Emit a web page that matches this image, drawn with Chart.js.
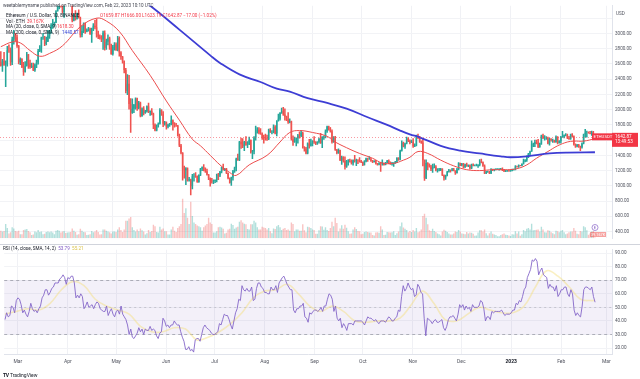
<!DOCTYPE html>
<html><head><meta charset="utf-8">
<title>ETHUSD 1D</title>
<script src="https://cdn.jsdelivr.net/npm/chart.js@4.4.1/dist/chart.umd.min.js"></script>
<style>
html,body{margin:0;padding:0;background:#fff;}
body{position:relative;width:640px;height:379px;overflow:hidden;font-family:Roboto,"Liberation Sans",Arial,sans-serif;}
canvas{position:absolute;left:0;}
#price{top:0;}
#rsi{top:244px;}
.t{position:absolute;white-space:nowrap;font-size:4.6px;line-height:5px;color:#131722;}
.r{color:#f23645}
.b{color:#2f3fd6}
</style></head><body>
<canvas id="price" width="640" height="244"></canvas>
<canvas id="rsi" width="640" height="128"></canvas>
<div class="t" style="left:3px;top:2.5px;color:#434651">weetablemyname published on TradingView.com, Feb 22, 2023 10:10 UTC</div>
<div class="t" style="left:6px;top:12.5px">Ethereum / U.S. Dollar, 1D, BINANCE</div>
<div class="t r" style="left:100px;top:12.5px">O1659.87 H1666.00 L1623.19 C1642.87 −17.00 (−1.02%)</div>
<div class="t" style="left:6px;top:18.5px">Vol · ETH</div><div class="t r" style="left:27px;top:18.5px">39.167K</div>
<div class="t" style="left:6px;top:24px">MA (20, close, 0, SMA, 9)</div><div class="t r" style="left:57px;top:24px">1618.30</div>
<div class="t" style="left:6px;top:29.5px">MA (200, close, 0, SMA, 9)</div><div class="t b" style="left:62px;top:29.5px">1440.57</div>
<div class="t" style="left:616px;top:10.5px;color:#50535e">USD</div>
<div class="t" style="left:3px;top:245.5px">RSI (14, close, SMA, 14, 2) &nbsp;<span style="color:#7e57c2">53.79</span> &nbsp;<span style="color:#d9c24a">55.21</span></div>
<div class="t" style="left:3px;top:373px;font-size:5px;color:#131722"><b style="letter-spacing:-0.3px">TV</b> TradingView</div>
<script>
// ---------- data (daily ETH/USD candles, Feb 21 2022 .. Feb 22 2023) ----------
const opens = [
2620,2575,2640,2590,2600,2780,2775,2620,
2920,2975,2950,2835,2620,2665,2555,2495,2575,2725,2605,2560,2575,2515,2590,2620,2770,2815,2945,2950,2860,2895,2970,3030,3110,3110,3140,3290,3330,3400,3385,
3280,3450,3445,3520,3520,3410,3170,3235,3190,3260,3210,2980,3030,3120,3020,3040,3060,2990,3060,3100,3080,2985,2960,2935,2920,3010,2810,2890,2935,2815,
2730,2825,2855,2780,2940,2750,2695,2635,2520,2245,2340,2075,1960,2010,2060,2145,2020,2090,1915,2015,1960,1975,2045,1970,1980,1945,1800,1725,1795,1815,1995,
1940,1815,1830,1775,1800,1805,1860,1810,1795,1790,1665,1530,1435,1210,1205,1230,1070,1085,995,1125,1130,1125,1050,1145,1225,1245,1200,1190,1145,1100,
1070,1060,1065,1075,1150,1135,1185,1240,1215,1220,1170,1100,1040,1110,1190,1230,1355,1340,1580,1545,1520,1575,1535,1550,1600,1440,1450,1635,1725,1735,1695,
1680,1635,1630,1620,1610,1735,1700,1700,1775,1685,1850,1880,1960,1980,1935,1905,1875,1835,1845,1610,1575,1620,1625,1660,1655,1695,1505,1490,1425,1555,1525,
1555,1585,1575,1555,1575,1615,1560,1630,1635,1715,1780,1765,1715,1575,1635,1475,1430,1470,1335,1375,1325,1250,1330,1330,1315,1295,1335,1330,1340,1335,
1330,1310,1275,1320,1360,1350,1350,1330,1315,1325,1290,1280,1295,1290,1295,1275,1305,1330,1310,1285,1285,1300,1315,1365,1345,1460,1565,1515,1555,1620,1590,
1570,1580,1520,1530,1645,1630,1575,1570,1335,1100,1300,1285,1255,1220,1240,1250,1200,1200,1210,1220,1140,1110,1135,1185,1205,1200,1215,1195,1170,1215,
1295,1275,1290,1240,1280,1260,1270,1230,1280,1265,1265,1265,1275,1320,1310,1265,1165,1185,1185,1165,1215,1210,1215,1220,1220,1220,1225,1210,1190,1200,1200,
1195,1200,1215,1215,1255,1250,1270,1265,1290,1320,1335,1390,1420,1450,1550,1550,1575,1565,1510,1555,1660,1630,1630,1630,1555,1610,1600,1600,1575,1645,1565,
1585,1640,1645,1665,1670,1630,1615,1675,1650,1545,1515,1540,1515,1505,1555,1675,1695,1695,1690,1680,1705,1659.87];
const highs = [
2760,2660,2750,2640,2830,2850,2810,2950,
3040,3000,2980,2845,2680,2670,2620,2630,2750,2725,2650,2610,2610,2600,2650,2790,2840,2950,3000,2960,2950,3040,3040,3130,3185,3150,3300,3425,3480,3445,3440,
3475,3530,3580,3550,3540,3410,3260,3300,3265,3310,3215,3100,3140,3140,3060,3080,3070,3070,3130,3170,3190,3030,2980,2970,3030,3035,2925,2980,2950,2860,
2845,2880,2875,2960,2955,2760,2700,2640,2540,2460,2450,2145,2140,2070,2155,2150,2110,2100,2025,2040,1990,2050,2085,1985,2015,1955,1815,1800,1825,2015,2000,
1975,1845,1840,1810,1820,1920,1865,1830,1820,1795,1680,1545,1435,1260,1240,1235,1110,1090,1150,1160,1175,1130,1145,1230,1250,1280,1235,1220,1150,1105,
1100,1080,1080,1155,1165,1190,1245,1285,1230,1230,1170,1105,1115,1205,1245,1365,1415,1585,1625,1620,1585,1645,1580,1640,1605,1465,1645,1785,1765,1765,1750,
1695,1665,1680,1665,1745,1750,1725,1800,1790,1855,1940,1960,2020,2030,2010,1915,1960,1880,1850,1655,1640,1630,1675,1710,1725,1705,1515,1505,1565,1610,1615,
1595,1645,1580,1580,1625,1690,1645,1655,1735,1785,1785,1765,1735,1645,1650,1480,1485,1470,1390,1385,1380,1335,1345,1350,1340,1340,1400,1350,1345,1370,
1335,1315,1330,1365,1365,1385,1360,1335,1330,1335,1295,1305,1310,1340,1300,1310,1335,1340,1315,1310,1305,1320,1370,1370,1470,1590,1575,1560,1640,1630,1605,
1600,1620,1550,1665,1680,1650,1590,1610,1340,1340,1305,1290,1270,1285,1290,1265,1225,1230,1230,1225,1145,1140,1190,1215,1210,1230,1230,1200,1230,1305,
1300,1295,1295,1285,1300,1275,1275,1285,1290,1275,1285,1280,1345,1350,1315,1275,1190,1195,1190,1225,1220,1220,1225,1225,1225,1230,1235,1215,1205,1205,1205,
1205,1220,1220,1265,1260,1275,1270,1290,1350,1345,1395,1425,1455,1590,1560,1600,1600,1610,1560,1665,1680,1660,1645,1640,1625,1620,1615,1600,1655,1645,1595,
1650,1715,1670,1685,1680,1650,1680,1685,1655,1550,1545,1545,1520,1565,1680,1740,1720,1710,1715,1720,1715,1666];
const lows = [
2570,2500,2580,2300,2570,2750,2580,2590,
2860,2900,2815,2600,2590,2550,2450,2490,2570,2540,2540,2550,2510,2500,2550,2595,2760,2750,2920,2840,2850,2890,2935,3000,3065,3095,3140,3290,3320,3345,3270,
3210,3435,3420,3400,3400,3150,3165,3175,3185,3200,2950,2955,3010,3000,3020,3030,2985,2880,3035,3060,2950,2930,2925,2890,2790,2780,2790,2850,2790,2725,
2715,2780,2775,2770,2700,2660,2610,2480,2220,2195,2005,1700,1950,1960,2005,1990,2010,1905,1910,1930,1950,1965,1960,1925,1930,1750,1720,1720,1770,1810,1925,
1775,1795,1745,1760,1780,1800,1730,1770,1780,1650,1515,1420,1075,1100,1015,1060,1060,880,960,1060,1110,1045,1045,1135,1200,1195,1175,1140,1080,995,
1035,1030,1040,1050,1080,1120,1170,1205,1200,1160,1090,1035,1005,1075,1175,1195,1335,1330,1490,1500,1460,1530,1500,1540,1430,1355,1420,1600,1690,1680,1675,
1610,1560,1600,1595,1605,1700,1680,1695,1680,1655,1850,1860,1950,1925,1860,1855,1820,1825,1600,1530,1570,1525,1560,1625,1645,1495,1455,1420,1420,1495,1520,
1525,1555,1540,1545,1560,1555,1500,1610,1630,1700,1730,1705,1560,1570,1465,1420,1425,1330,1280,1310,1220,1240,1270,1310,1285,1270,1310,1265,1290,1310,
1305,1265,1270,1315,1320,1345,1320,1305,1310,1285,1270,1275,1190,1270,1270,1275,1300,1290,1280,1270,1255,1295,1305,1335,1340,1455,1510,1490,1550,1580,1550,
1565,1505,1515,1525,1620,1570,1555,1260,1070,1095,1210,1245,1200,1175,1235,1195,1180,1195,1200,1135,1075,1085,1130,1180,1180,1195,1195,1150,1165,1210,
1265,1260,1235,1240,1255,1250,1220,1225,1260,1260,1260,1240,1260,1300,1255,1160,1160,1175,1160,1160,1200,1195,1210,1215,1205,1215,1200,1185,1185,1190,1190,
1190,1195,1205,1210,1245,1240,1260,1260,1285,1315,1320,1370,1405,1450,1515,1515,1550,1500,1505,1545,1620,1600,1610,1550,1535,1585,1570,1570,1570,1550,1560,
1560,1635,1630,1655,1620,1610,1610,1640,1535,1505,1510,1505,1460,1495,1550,1640,1640,1690,1680,1660,1645,1623.19];
const closes = [
2575,2640,2590,2600,2780,2775,2620,2920,
2975,2950,2835,2620,2665,2555,2495,2575,2725,2605,2560,2575,2515,2590,2620,2770,2815,2945,2950,2860,2895,2970,3030,3110,3110,3140,3290,3330,3400,3385,3280,
3450,3445,3520,3520,3410,3170,3235,3190,3260,3210,2980,3030,3120,3020,3040,3060,2990,3060,3100,3080,2985,2960,2935,2920,3010,2810,2890,2935,2815,2730,
2825,2855,2780,2940,2750,2695,2635,2520,2245,2340,2075,1960,2010,2060,2145,2020,2090,1915,2015,1960,1975,2045,1970,1980,1945,1800,1725,1795,1815,1995,1940,
1815,1830,1775,1800,1805,1860,1810,1795,1790,1665,1530,1435,1210,1205,1230,1070,1085,995,1125,1130,1125,1050,1145,1225,1245,1200,1190,1145,1100,1070,
1060,1065,1075,1150,1135,1185,1240,1215,1220,1170,1100,1040,1110,1190,1230,1355,1340,1580,1545,1520,1575,1535,1550,1600,1440,1450,1635,1725,1735,1695,1680,
1635,1630,1620,1610,1735,1700,1700,1775,1685,1850,1880,1960,1980,1935,1905,1875,1835,1845,1610,1575,1620,1625,1660,1655,1695,1505,1490,1425,1555,1525,1555,
1585,1575,1555,1575,1615,1560,1630,1635,1715,1780,1765,1715,1575,1635,1475,1430,1470,1335,1375,1325,1250,1330,1330,1315,1295,1335,1330,1340,1335,1330,
1310,1275,1320,1360,1350,1350,1330,1315,1325,1290,1280,1295,1290,1295,1275,1305,1330,1310,1285,1285,1300,1315,1365,1345,1460,1565,1515,1555,1620,1590,1570,
1580,1520,1530,1645,1630,1575,1570,1335,1100,1300,1285,1255,1220,1240,1250,1200,1200,1210,1220,1140,1110,1135,1185,1205,1200,1215,1195,1170,1215,1295,
1275,1290,1240,1280,1260,1270,1230,1280,1265,1265,1265,1275,1320,1310,1265,1165,1185,1185,1165,1215,1210,1215,1220,1220,1220,1225,1210,1190,1200,1200,1195,
1200,1215,1215,1255,1250,1270,1265,1290,1320,1335,1390,1420,1450,1550,1550,1575,1565,1510,1555,1660,1630,1630,1630,1555,1610,1600,1600,1575,1645,1565,1585,
1640,1645,1665,1670,1630,1615,1675,1650,1545,1515,1540,1515,1505,1555,1675,1695,1695,1690,1680,1705,1659.87,1642.87];
// volume, thousand ETH
const volumes = [
480,420,450,900,650,300,380,700,
620,450,420,480,260,260,520,560,580,450,380,200,240,420,380,520,400,430,260,280,400,420,380,420,360,260,480,520,480,360,420,
460,330,360,380,400,620,480,400,220,260,600,480,400,380,200,220,260,460,380,420,520,400,240,260,560,560,480,420,380,300,
420,420,400,560,700,520,400,560,1100,1100,1250,1350,700,520,420,560,440,620,500,420,240,320,520,400,460,860,760,400,360,720,560,
620,440,440,240,240,560,720,480,400,640,760,900,2500,1600,1900,1300,900,2300,1400,1000,900,800,760,700,480,700,800,900,1300,1000,
900,360,360,440,700,720,680,600,300,340,560,600,920,840,600,680,720,1040,1140,1000,920,880,580,560,880,880,1100,1000,700,560,560,
720,680,640,560,640,440,320,620,580,760,840,700,520,600,640,520,560,480,1000,900,440,560,560,480,480,880,500,380,720,700,640,
560,520,280,280,500,760,740,540,700,520,460,640,1040,760,1300,960,420,620,820,600,860,660,440,280,300,560,700,580,460,440,
260,280,400,420,400,360,360,200,180,360,380,340,760,560,200,220,400,380,360,380,440,200,320,420,760,1000,680,600,520,380,460,
400,520,420,640,380,420,560,1400,1550,1300,880,500,460,600,460,400,300,260,180,420,540,480,400,300,240,240,300,420,400,520,
420,300,280,260,400,300,360,340,280,160,180,360,500,500,420,560,320,180,320,420,280,240,200,120,120,200,260,300,220,200,180,
140,260,240,440,300,420,160,260,520,440,600,640,560,920,500,520,540,560,420,720,560,380,360,500,480,380,320,260,480,440,380,
480,520,380,260,300,380,420,420,640,480,280,260,460,420,760,700,500,220,300,420,460,40];
// RSI(14) daily
const rsi = [
41,46,43,44,51,50,46,55,
57,56,52,46,48,45,43,47,53,49,47,48,46,49,51,57,59,63,63,59,61,64,65,68,68,68,71,72,74,72,67,
72,71,73,73,68,57,59,57,60,58,49,51,54,50,51,52,49,52,54,53,49,48,47,47,51,44,47,49,45,43,
47,48,45,51,45,43,41,37,30,34,28,27,29,31,35,32,34,30,34,33,33,36,33,34,33,29,27,31,32,42,40,
36,37,35,37,37,40,38,37,37,32,28,25,19,19,21,18,19,17,26,27,27,25,30,35,37,35,34,33,31,30,
30,31,32,38,37,41,45,44,44,41,37,34,40,46,49,56,55,66,63,62,64,62,62,65,55,56,64,68,68,65,64,
61,61,60,60,65,63,63,66,61,68,70,72,73,70,67,65,63,63,48,46,49,49,51,51,53,43,42,39,46,45,47,
48,48,47,48,50,47,51,51,56,60,59,56,47,51,42,40,42,35,38,36,33,38,38,38,37,40,40,40,40,40,
39,37,40,43,42,42,41,40,41,39,38,40,40,40,39,41,43,42,40,40,42,43,48,47,58,66,62,64,68,65,63,
64,58,59,67,65,61,60,42,29,42,41,40,38,40,41,39,39,40,41,35,33,36,41,43,43,44,42,40,45,52,
50,52,48,51,49,50,47,52,50,50,50,51,55,54,49,40,43,43,41,47,46,47,47,47,47,48,46,44,45,45,45,
46,48,48,53,52,55,54,58,63,65,72,75,78,85,84,86,84,74,77,79,74,73,72,64,67,65,65,62,66,58,60,
63,63,65,65,60,58,63,60,48,44,46,44,43,51,63,65,65,64,63,65,58,53.79];
// moving averages (day offset from Feb 21 2022 -> value)
const ma20Day = [0,7,12,18,24,30,38,49,59,65,73,81,92,102,110,118,123,129,135,141,145,153,164,172,178,184,192,201,205,213,221,229,235,242,248,252,257,263,271,279,287,295,303,312,318,324,330,337,343,349,353,359,366];
const ma20Val = [2825,2887,2875,2775,2700,2737,2837,3087,3200,3162,3025,2775,2450,2112,1862,1612,1525,1400,1275,1175,1137,1275,1400,1575,1700,1725,1700,1650,1587,1500,1425,1362,1300,1295,1337,1375,1450,1425,1337,1262,1212,1200,1212,1212,1225,1275,1362,1450,1525,1575,1587,1587,1618];
const ma200Day = [73,92,110,129,135,147,160,170,178,189,201,213,226,238,246,252,258,271,283,295,308,314,324,338,349,366];
const ma200Val = [3650,3362,3050,2712,2612,2462,2362,2275,2237,2150,2087,2012,1900,1800,1725,1675,1637,1525,1462,1425,1387,1375,1387,1425,1437,1440.57];
const rsiMaDay = [0,7,14,21,28,35,42,49,56,63,70,77,84,91,98,105,112,119,126,133,140,147,154,161,168,175,182,189,196,203,210,217,224,231,238,245,252,259,266,273,280,287,294,301,308,315,322,329,336,343,350,357,364,366];
const rsiMaVal = [45,47,49,48,53,63,69,66,56,51,48,45,36,32,32,35,34,26,28,32,38,46,57,62,63,67,60,51,47,51,47,40,39,40,40,42,52,62,53,41,40,45,50,48,46,46,51,65,77,73,65,56,55,55.21];
const priceTicks = {min: 312.5, max: 3362.5, step: 200, top: 3000};
const rsiTicks = {min: 15.6, max: 92.5, step: 10};
const monthNames = ['Jan','Feb','Mar','Apr','May','Jun','Jul','Aug','Sep','Oct','Nov','Dec'];

// ---------- categories ----------
const startDay = Date.UTC(2022,1,21);
const dates = [];
for (let i = 0; i < 377; i++) dates.push(new Date(startDay + i*864e5).toISOString().slice(0,10));
const isMonthStart = i => dates[i] && dates[i].slice(8) === '01';

const UP = '#26a69a', DN = '#ef5350';
const candleCol = opens.map((o,i) => closes[i] >= o ? UP : DN);
const volCol = opens.map((o,i) => closes[i] >= o ? 'rgba(38,166,154,0.35)' : 'rgba(239,83,80,0.35)');
const pts = (days, vals) => days.map((d,k) => ({x: dates[d], y: vals[k]}));
const FONT = 'Roboto, "Liberation Sans", Arial, sans-serif';
const gridCol = c => (c.tick && isMonthStart(c.index)) ? '#f0f1f5' : 'rgba(0,0,0,0)';

Chart.defaults.font.family = FONT;

const priceOverlay = {
  id: 'priceOverlay',
  afterDatasetsDraw(chart) {
    const {ctx, chartArea: a, scales: {y}} = chart;
    const py = Math.round(y.getPixelForValue(closes[closes.length-1])) + 0.5;
    ctx.save();
    ctx.strokeStyle = 'rgba(242,54,69,0.5)'; ctx.lineWidth = 1; ctx.setLineDash([1,2]);
    ctx.beginPath(); ctx.moveTo(a.left, py); ctx.lineTo(a.right, py); ctx.stroke();
    ctx.restore();
  },
  afterDraw(chart) {
    const {ctx, chartArea: a, scales: {y}} = chart;
    const last = closes[closes.length-1];
    const py = y.getPixelForValue(last);
    ctx.save();
    ctx.fillStyle = '#f23645';
    ctx.fillRect(a.right - 20, py - 3.5, 20, 7);
    ctx.fillRect(a.right, py - 4, 26, 14);
    ctx.fillStyle = '#fff';
    ctx.font = '4.3px ' + FONT; ctx.textBaseline = 'middle';
    ctx.fillText('ETHUSDT', a.right - 18.5, py);
    ctx.font = '4.6px ' + FONT;
    ctx.fillText(last.toFixed(2), a.right + 3, py);
    ctx.fillText('13:49:53', a.right + 3, py + 5.5);
    // event marker + volume label
    ctx.strokeStyle = '#9575cd'; ctx.lineWidth = 0.8;
    ctx.beginPath(); ctx.arc(a.right - 17, 227.5, 3, 0, Math.PI*2); ctx.stroke();
    ctx.fillStyle = '#7e57c2'; ctx.font = '4px ' + FONT; ctx.textAlign = 'center';
    ctx.fillText('E', a.right - 17, 227.7);
    ctx.fillStyle = 'rgba(239,83,80,0.55)';
    ctx.fillRect(a.right - 22, 232, 16, 5);
    ctx.fillStyle = '#fff'; ctx.font = '3.8px ' + FONT;
    ctx.fillText('39.167K', a.right - 14, 234.6);
    ctx.restore();
  }
};

new Chart(document.getElementById('price'), {
  type: 'bar',
  data: {
    labels: dates,
    datasets: [
      {type: 'line', label: 'MA200', data: pts(ma200Day, ma200Val), borderColor: '#3d3dd4', borderWidth: 1.8, pointRadius: 0, tension: 0.4, order: 1},
      {type: 'line', label: 'MA20', data: pts(ma20Day, ma20Val), borderColor: '#ec4d4d', borderWidth: 1, pointRadius: 0, tension: 0.4, order: 2},
      {label: 'body', data: opens.map((o,i) => [o, closes[i]]), backgroundColor: candleCol, grouped: false, barPercentage: 0.85, categoryPercentage: 1, order: 3},
      {label: 'wick', data: lows.map((l,i) => [l, highs[i]]), backgroundColor: candleCol, grouped: false, barThickness: 0.9, order: 4},
      {label: 'vol', data: volumes, yAxisID: 'yv', backgroundColor: volCol, grouped: false, barPercentage: 0.85, categoryPercentage: 1, order: 5}
    ]
  },
  options: {
    responsive: false, animation: false, events: [],
    layout: {padding: 0},
    plugins: {legend: {display: false}, tooltip: {enabled: false}},
    scales: {
      x: {
        type: 'category', offset: true,
        grid: {offset: false, color: gridCol, drawTicks: false},
        border: {display: false},
        ticks: {display: false, autoSkip: false, maxRotation: 0},
        afterFit: s => { s.height = 0; }
      },
      y: {
        position: 'right', min: priceTicks.min, max: priceTicks.max,
        grid: {color: '#f2f3f6', drawTicks: false},
        border: {color: '#e0e3eb'},
        ticks: {stepSize: priceTicks.step, includeBounds: false, padding: 3, color: '#50535e', font: {size: 4.6},
          callback: v => v <= priceTicks.top ? v.toFixed(2) : ''},
        afterFit: s => { s.width = 28; }
      },
      yv: {display: false, min: 0, max: 14700}
    }
  },
  plugins: [priceOverlay]
});

const rsiBands = {
  id: 'rsiBands',
  beforeDatasetsDraw(chart) {
    const {ctx, chartArea: a, scales: {y}} = chart;
    const y70 = y.getPixelForValue(70), y30 = y.getPixelForValue(30), y50 = y.getPixelForValue(50);
    ctx.save();
    ctx.fillStyle = 'rgba(126,87,194,0.09)';
    ctx.fillRect(a.left, y70, a.right - a.left, y30 - y70);
    ctx.lineWidth = 1;
    ctx.strokeStyle = 'rgba(120,123,134,0.55)'; ctx.setLineDash([3,3]);
    [y70, y30].forEach(p => { ctx.beginPath(); ctx.moveTo(a.left, Math.round(p)+0.5); ctx.lineTo(a.right, Math.round(p)+0.5); ctx.stroke(); });
    ctx.strokeStyle = 'rgba(120,123,134,0.3)'; ctx.setLineDash([2,3]);
    ctx.beginPath(); ctx.moveTo(a.left, Math.round(y50)+0.5); ctx.lineTo(a.right, Math.round(y50)+0.5); ctx.stroke();
    ctx.restore();
  },
  afterDraw(chart) {
    const {ctx} = chart;
    ctx.save();
    ctx.fillStyle = '#d1d4dc';
    ctx.fillRect(0, 0, 640, 1);
    ctx.restore();
  }
};

new Chart(document.getElementById('rsi'), {
  type: 'line',
  data: {
    labels: dates,
    datasets: [
      {label: 'RSI', data: rsi, borderColor: '#8466c8', borderWidth: 0.9, pointRadius: 0, tension: 0, order: 1},
      {label: 'RSI MA', data: pts(rsiMaDay, rsiMaVal), borderColor: 'rgba(244,222,120,0.45)', borderWidth: 1.6, pointRadius: 0, tension: 0.4, order: 2}
    ]
  },
  options: {
    responsive: false, animation: false, events: [],
    layout: {padding: {top: 1}},
    plugins: {legend: {display: false}, tooltip: {enabled: false}},
    scales: {
      x: {
        type: 'category', offset: true,
        grid: {offset: false, color: gridCol, drawTicks: false},
        border: {color: '#e0e3eb'},
        ticks: {
          autoSkip: false, maxRotation: 0, minRotation: 0, padding: 5,
          color: c => (dates[c.index] === '2023-01-01') ? '#131722' : '#50535e',
          font: c => ({size: 5, weight: (dates[c.index] === '2023-01-01') ? 'bold' : 'normal'}),
          callback: (v, i) => {
            if (!isMonthStart(i)) return '';
            const m = +dates[i].slice(5,7);
            return m === 1 ? dates[i].slice(0,4) : monthNames[m-1];
          }
        },
        afterFit: s => { s.height = 18; }
      },
      y: {
        position: 'right', min: rsiTicks.min, max: rsiTicks.max,
        grid: {color: '#f2f3f6', drawTicks: false},
        border: {color: '#e0e3eb'},
        ticks: {stepSize: rsiTicks.step, includeBounds: false, padding: 3, color: '#50535e', font: {size: 4.6},
          callback: v => v.toFixed(2)},
        afterFit: s => { s.width = 28; }
      }
    }
  },
  plugins: [rsiBands]
});
</script>
</body></html>
